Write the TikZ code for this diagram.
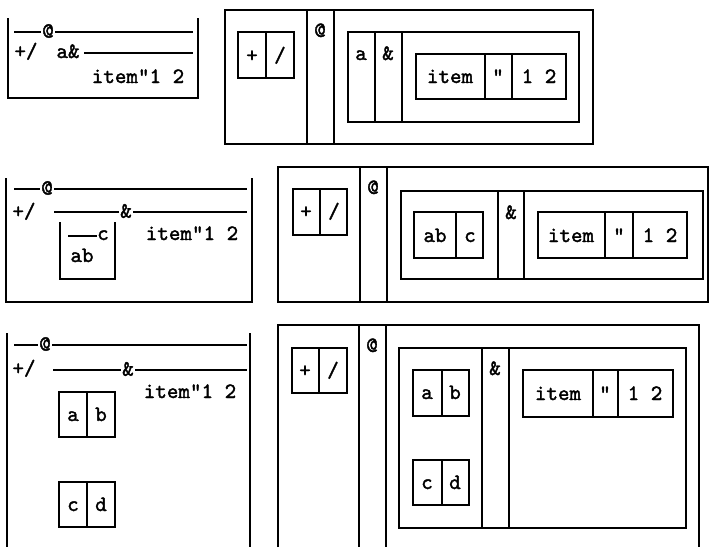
\documentclass[tikz,border=0pt]{standalone}
\usepackage{fontspec}
\newfontfamily\apl{lmmono10-regular.otf}[Ligatures=TeXOff,FakeBold=1.6]
\newcommand\aplfont{\apl\bfseries\fontsize{22}{22}\selectfont}
\begin{document}
\begin{tikzpicture}[x=1pt,y=-1pt,
  ln/.style={line width=1.6pt},
  txt/.style={font=\aplfont, inner sep=0pt, anchor=base},
  onl/.style={font=\aplfont, inner sep=1pt, fill=white, anchor=center}]
\useasboundingbox (0,0) rectangle (711,547);
% ---------- panel 1 (tree) ----------
\draw[ln] (8,18) -- (8,98) -- (198,98) -- (198,18);
\draw[ln] (14,32) -- (193,32);
\node[onl] (t1at) at (48,31) {@};
\node[txt] (t1op) at (26,58) {+/};
\node[txt] (t1a) at (68,58) {a\&};
\draw[ln] (84,53) -- (193,53);
\node[txt] (t1it) at (138,83) {item"1 2};
% ---------- panel 2 (boxes) ----------
\draw[ln] (225,10) rectangle (593,144);
\draw[ln] (307,10) -- (307,144) (334,10) -- (334,144);
\draw[ln] (238,32) rectangle (294,78) (266,32) -- (266,78);
\node[txt] (b1p) at (252,62) {+};
\node[txt] (b1s) at (280,62) {/};
\node[txt] (b1at) at (320,37) {@};
\draw[ln] (348,32) rectangle (579,122) (375,32) -- (375,122) (402,32) -- (402,122);
\node[txt] (b1a) at (361,60) {a};
\node[txt] (b1amp) at (388,60) {\&};
\draw[ln] (416,54) rectangle (566,99) (485,54) -- (485,99) (512,54) -- (512,99);
\node[txt] (b1it) at (450,83) {item};
\node[txt] (b1q) at (498,83) {"};
\node[txt] (b1n) at (539,83) {1 2};
% ---------- panel 3 (tree) ----------
\draw[ln] (6,178) -- (6,302) -- (252,302) -- (252,178);
\draw[ln] (14,189) -- (247,189);
\node[onl] (t2at) at (47,188) {@};
\node[txt] (t2op) at (24,218) {+/};
\draw[ln] (54,212) -- (247,212);
\node[onl] (t2amp) at (126,211) {\&};
\draw[ln] (60,222) -- (60,279) -- (115,279) -- (115,222);
\draw[ln] (68,236) -- (97,236);
\node[txt] (t2c) at (103,240) {c};
\node[txt] (t2ab) at (82,262) {ab};
\node[txt] (t2it) at (192,240) {item"1 2};
% ---------- panel 4 (boxes) ----------
\draw[ln] (278,167) rectangle (708,302);
\draw[ln] (360,167) -- (360,302) (387,167) -- (387,302);
\draw[ln] (293,189) rectangle (347,235) (320,189) -- (320,235);
\node[txt] (b2p) at (306,218) {+};
\node[txt] (b2s) at (334,218) {/};
\node[txt] (b2at) at (373,194) {@};
\draw[ln] (401,191) rectangle (703,279) (498,191) -- (498,279) (524,191) -- (524,279);
\draw[ln] (414,212) rectangle (483,258) (456,212) -- (456,258);
\node[txt] (b2ab) at (435,242) {ab};
\node[txt] (b2c) at (470,242) {c};
\node[txt] (b2amp) at (511,219) {\&};
\draw[ln] (538,212) rectangle (687,258) (605,212) -- (605,258) (633,212) -- (633,258);
\node[txt] (b2it) at (571,242) {item};
\node[txt] (b2q) at (619,242) {"};
\node[txt] (b2n) at (660,242) {1 2};
% ---------- panel 5 (tree) ----------
\draw[ln] (7,333) -- (7,547) (250,333) -- (250,547);
\draw[ln] (14,345) -- (247,345);
\node[onl] (t3at) at (45,344) {@};
\node[txt] (t3op) at (24,375) {+/};
\draw[ln] (53,370) -- (247,370);
\node[onl] (t3amp) at (128,369) {\&};
\node[txt] (t3it) at (190,398) {item"1 2};
\draw[ln] (59,392) rectangle (115,437) (87,392) -- (87,437);
\node[txt] (t3a) at (73,421) {a};
\node[txt] (t3b) at (101,421) {b};
\draw[ln] (59,482) rectangle (115,527) (87,482) -- (87,527);
\node[txt] (t3c) at (73,511) {c};
\node[txt] (t3d) at (101,511) {d};
% ---------- panel 6 (boxes) ----------
\draw[ln] (278,547) -- (278,325) -- (699,325) -- (699,547);
\draw[ln] (359,325) -- (359,547) (386,325) -- (386,547);
\draw[ln] (292,348) rectangle (347,393) (319,348) -- (319,393);
\node[txt] (b3p) at (305,377) {+};
\node[txt] (b3s) at (333,377) {/};
\node[txt] (b3at) at (372,352) {@};
\draw[ln] (399,348) rectangle (686,528) (482,348) -- (482,528) (509,348) -- (509,528);
\draw[ln] (413,370) rectangle (469,416) (442,370) -- (442,416);
\node[txt] (b3a) at (427,399) {a};
\node[txt] (b3b) at (455,399) {b};
\draw[ln] (413,460) rectangle (469,505) (442,460) -- (442,505);
\node[txt] (b3c) at (427,489) {c};
\node[txt] (b3d) at (455,489) {d};
\node[txt] (b3amp) at (495,375) {\&};
\draw[ln] (523,370) rectangle (673,417) (593,370) -- (593,417) (618,370) -- (618,417);
\node[txt] (b3it) at (558,400) {item};
\node[txt] (b3q) at (605,400) {"};
\node[txt] (b3n) at (645,400) {1 2};
\end{tikzpicture}
\end{document}
